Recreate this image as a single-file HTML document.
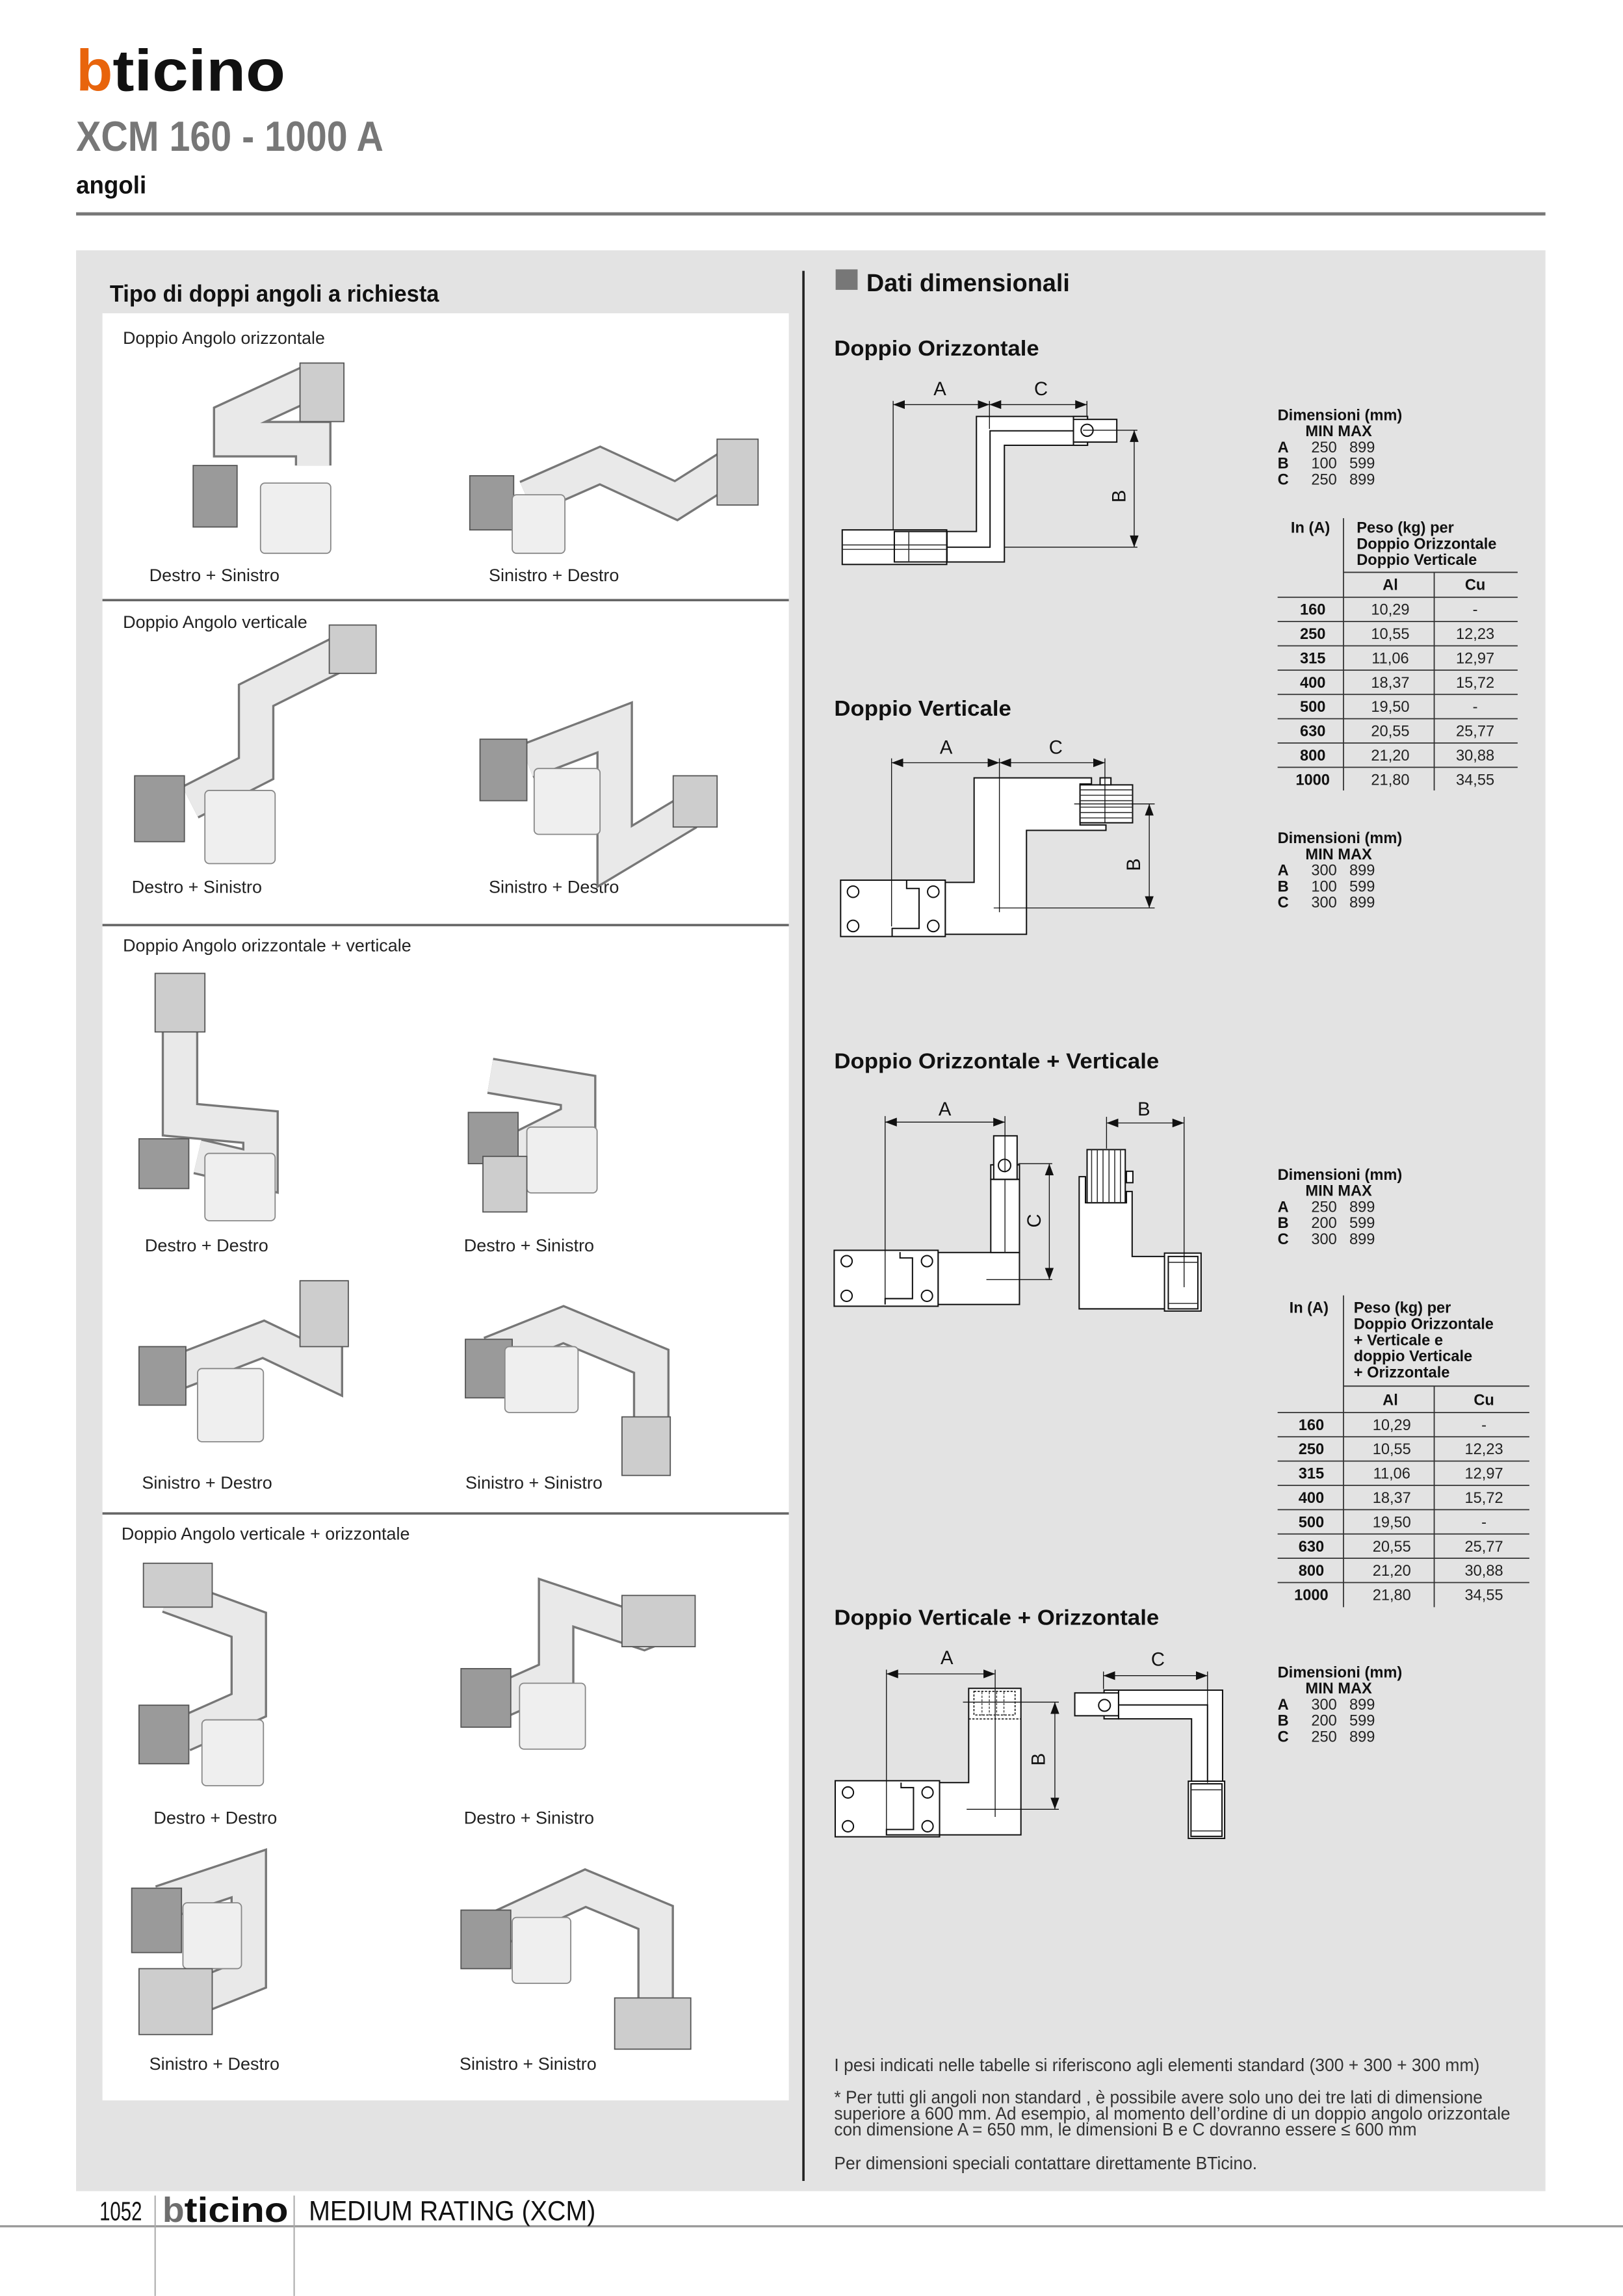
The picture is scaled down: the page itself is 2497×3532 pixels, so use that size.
<!DOCTYPE html>
<html><head><meta charset="utf-8"><style>
html,body{margin:0;padding:0;background:#fff}
svg{display:block}
text{font-family:"Liberation Sans Narrow","Liberation Sans",sans-serif}
.b{font-family:"Liberation Sans",sans-serif;font-weight:bold;font-size:10.5px;fill:#111}
.n{font-family:"Liberation Sans",sans-serif;font-size:10.5px;fill:#222}
.lab{font-size:12px;fill:#222}
.sh{fill:#fff;stroke:#111;stroke-width:0.9}
.ln{fill:none;stroke:#111;stroke-width:0.9}
.dl{stroke:#111;stroke-width:0.6;fill:none}
.dim{font-family:"Liberation Sans",sans-serif;font-size:13px;fill:#111}
.tl{stroke:#333;stroke-width:0.7}
</style></head><body>
<svg width="2497" height="3532" viewBox="0 0 1109 1568.6" xmlns="http://www.w3.org/2000/svg">
<defs>
<marker id="ar" markerWidth="8" markerHeight="6" refX="8" refY="3" orient="auto-start-reverse" markerUnits="userSpaceOnUse"><path d="M0,0 L8,3 L0,6Z" fill="#111"/></marker>
</defs>
<rect width="1109" height="1568.6" fill="#fff"/>
<!-- header -->
<text x="52" y="62" font-size="40" font-weight="bold" fill="#e8640c" textLength="25" lengthAdjust="spacingAndGlyphs">b</text>
<text x="77" y="62" font-size="40" font-weight="bold" fill="#111" textLength="118" lengthAdjust="spacingAndGlyphs">ticino</text>
<text x="52" y="103" font-size="29" font-weight="bold" fill="#777" textLength="210" lengthAdjust="spacingAndGlyphs">XCM  160 - 1000 A</text>
<text x="52" y="132" font-size="17" font-weight="bold" fill="#111" textLength="48" lengthAdjust="spacingAndGlyphs">angoli</text>
<rect x="52" y="145" width="1004" height="2.2" fill="#777"/>
<!-- panel -->
<rect x="52" y="171" width="1004" height="1326" fill="#e3e3e3"/>
<text x="75" y="206" font-size="16" font-weight="bold" fill="#111" textLength="225" lengthAdjust="spacingAndGlyphs">Tipo di doppi angoli a richiesta</text>
<rect x="70" y="214" width="469" height="1221" fill="#fff"/>
<g stroke="#666" stroke-width="1.6"><line x1="70" y1="410" x2="539" y2="410"/><line x1="70" y1="632" x2="539" y2="632"/><line x1="70" y1="1034" x2="539" y2="1034"/></g>
<g class="lab">
<text x="84" y="235" textLength="138" lengthAdjust="spacingAndGlyphs">Doppio Angolo orizzontale</text>
<text x="84" y="429" textLength="126" lengthAdjust="spacingAndGlyphs">Doppio Angolo verticale</text>
<text x="84" y="650" textLength="197" lengthAdjust="spacingAndGlyphs">Doppio Angolo orizzontale + verticale</text>
<text x="83" y="1052" textLength="197" lengthAdjust="spacingAndGlyphs">Doppio Angolo verticale + orizzontale</text>
<text x="102" y="397">Destro + Sinistro</text><text x="334" y="397">Sinistro + Destro</text>
<text x="90" y="610">Destro + Sinistro</text><text x="334" y="610">Sinistro + Destro</text>
<text x="99" y="855">Destro + Destro</text><text x="317" y="855">Destro + Sinistro</text>
<text x="97" y="1017">Sinistro + Destro</text><text x="318" y="1017">Sinistro + Sinistro</text>
<text x="105" y="1246">Destro + Destro</text><text x="317" y="1246">Destro + Sinistro</text>
<text x="102" y="1414">Sinistro + Destro</text><text x="314" y="1414">Sinistro + Sinistro</text>
</g>
<!-- 3D products (approximations) -->
<g stroke-linejoin="miter" fill="none">
<g stroke="#777" stroke-width="25">
<path d="M210,262 L158,286 L158,300 L214,300 L214,318"/>
<path d="M500,318 L462,342 L410,318 L360,340"/>
<path d="M235,445 L175,475 L175,525 L130,548"/>
<path d="M360,520 L420,497 L420,585 L470,555"/>
<path d="M123,700 L123,765 L178,770 L178,800 L135,790"/>
<path d="M335,735 L395,745 L395,765 L345,790"/>
<path d="M115,940 L180,915 L222,935 L222,900"/>
<path d="M335,925 L385,905 L445,930 L445,985"/>
<path d="M115,1090 L170,1110 L170,1165 L125,1185"/>
<path d="M335,1165 L380,1145 L380,1095 L440,1115 L465,1105"/>
<path d="M110,1300 L170,1280 L170,1350 L120,1370"/>
<path d="M335,1320 L400,1290 L448,1310 L448,1370"/>
</g>
<g stroke="#e9e9e9" stroke-width="22">
<path d="M210,262 L158,286 L158,300 L214,300 L214,318"/>
<path d="M500,318 L462,342 L410,318 L360,340"/>
<path d="M235,445 L175,475 L175,525 L130,548"/>
<path d="M360,520 L420,497 L420,585 L470,555"/>
<path d="M123,700 L123,765 L178,770 L178,800 L135,790"/>
<path d="M335,735 L395,745 L395,765 L345,790"/>
<path d="M115,940 L180,915 L222,935 L222,900"/>
<path d="M335,925 L385,905 L445,930 L445,985"/>
<path d="M115,1090 L170,1110 L170,1165 L125,1185"/>
<path d="M335,1165 L380,1145 L380,1095 L440,1115 L465,1105"/>
<path d="M110,1300 L170,1280 L170,1350 L120,1370"/>
<path d="M335,1320 L400,1290 L448,1310 L448,1370"/>
</g>
</g>
<g stroke="#555" stroke-width="0.8">
<g fill="#9a9a9a">
<rect x="132" y="318" width="30" height="42"/><rect x="321" y="325" width="30" height="37"/>
<rect x="92" y="530" width="34" height="45"/><rect x="328" y="505" width="32" height="42"/>
<rect x="95" y="778" width="34" height="34"/><rect x="320" y="760" width="34" height="35"/>
<rect x="95" y="920" width="32" height="40"/><rect x="318" y="915" width="32" height="40"/>
<rect x="95" y="1165" width="34" height="40"/><rect x="315" y="1140" width="34" height="40"/>
<rect x="90" y="1290" width="34" height="44"/><rect x="315" y="1305" width="34" height="40"/>
</g>
<g fill="#efefef" stroke="#888">
<rect x="178" y="330" width="48" height="48" rx="3"/><rect x="350" y="338" width="36" height="40" rx="3"/>
<rect x="140" y="540" width="48" height="50" rx="3"/><rect x="365" y="525" width="45" height="45" rx="3"/>
<rect x="140" y="788" width="48" height="46" rx="3"/><rect x="360" y="770" width="48" height="45" rx="3"/>
<rect x="135" y="935" width="45" height="50" rx="3"/><rect x="345" y="920" width="50" height="45" rx="3"/>
<rect x="138" y="1175" width="42" height="45" rx="3"/><rect x="355" y="1150" width="45" height="45" rx="3"/>
<rect x="125" y="1300" width="40" height="45" rx="3"/><rect x="350" y="1310" width="40" height="45" rx="3"/>
</g>
<g fill="#cdcdcd">
<rect x="205" y="248" width="30" height="40"/><rect x="490" y="300" width="28" height="45"/>
<rect x="225" y="427" width="32" height="33"/><rect x="460" y="530" width="30" height="35"/>
<rect x="106" y="665" width="34" height="40"/><rect x="330" y="790" width="30" height="38"/>
<rect x="205" y="875" width="33" height="45"/><rect x="425" y="968" width="33" height="40"/>
<rect x="98" y="1068" width="47" height="30"/><rect x="425" y="1090" width="50" height="35"/>
<rect x="95" y="1345" width="50" height="45"/><rect x="420" y="1365" width="52" height="35"/>
</g>
</g>
<!-- right column -->
<line x1="549" y1="185" x2="549" y2="1490" stroke="#222" stroke-width="1.6"/>
<rect x="571" y="184" width="15" height="14" fill="#777"/>
<text x="592" y="199" font-size="17" font-weight="bold" fill="#111" font-family="Liberation Sans" textLength="139" lengthAdjust="spacingAndGlyphs">Dati dimensionali</text>
<g font-size="15" font-weight="bold" fill="#111">
<text x="570" y="243" textLength="140" lengthAdjust="spacingAndGlyphs">Doppio Orizzontale</text>
<text x="570" y="489" textLength="121" lengthAdjust="spacingAndGlyphs">Doppio Verticale</text>
<text x="570" y="730" textLength="222" lengthAdjust="spacingAndGlyphs">Doppio Orizzontale + Verticale</text>
<text x="570" y="1110" textLength="222" lengthAdjust="spacingAndGlyphs">Doppio Verticale + Orizzontale</text>
</g>

<!-- Drawing 1 -->
<g>
<polygon class="sh" points="646.9,363.1 667.2,363.1 667.2,284.5 743.1,284.5 743.1,304.2 686.3,304.2 686.3,383.9 646.9,383.9"/>
<polyline class="ln" points="646.9,373.8 676.5,373.8 676.5,294.3 733.5,294.3"/>
<rect class="sh" x="733.5" y="284.5" width="9.6" height="19.7"/>
<rect class="sh" x="733.5" y="286.5" width="29.6" height="15.5"/>
<circle class="sh" cx="742.8" cy="293.9" r="4.1"/>
<rect class="sh" x="575.5" y="362" width="71.4" height="23.6"/>
<line class="tl" x1="575.5" y1="372.3" x2="646.9" y2="372.3"/><line class="tl" x1="575.5" y1="375.3" x2="646.9" y2="375.3"/>
<rect class="ln" x="611.1" y="363.1" width="36" height="20.8"/>
<line class="tl" x1="621" y1="363.1" x2="621" y2="383.9"/>
<line class="dl" x1="610.3" y1="276.4" x2="676.1" y2="276.4" marker-start="url(#ar)" marker-end="url(#ar)"/>
<line class="dl" x1="676.1" y1="276.4" x2="742.7" y2="276.4" marker-start="url(#ar)" marker-end="url(#ar)"/>
<line class="dl" x1="610.3" y1="273.9" x2="610.3" y2="362"/>
<line class="dl" x1="676.1" y1="273.9" x2="676.1" y2="293"/>
<line class="dl" x1="742.7" y1="273.9" x2="742.7" y2="284"/>
<line class="dl" x1="775" y1="293.9" x2="775" y2="373.8" marker-start="url(#ar)" marker-end="url(#ar)"/>
<line class="dl" x1="740" y1="293.9" x2="777.2" y2="293.9"/><line class="dl" x1="686" y1="373.8" x2="777.2" y2="373.8"/>
<text class="dim" x="642.2" y="270" text-anchor="middle">A</text>
<text class="dim" x="711.3" y="270" text-anchor="middle">C</text>
<text class="dim" transform="translate(769,339) rotate(-90)" text-anchor="middle">B</text>
</g>

<!-- Drawing 2 -->
<g>
<polygon class="sh" points="645.9,602.8 665.6,602.8 665.6,531.4 745.8,531.4 745.8,535.6 738,535.6 738,563.6 755.7,563.6 755.7,567.3 701.4,567.3 701.4,638.3 645.9,638.3"/>
<rect class="sh" x="738" y="536.2" width="35.9" height="25.9"/>
<g class="tl"><line x1="738" y1="539.6" x2="773.9" y2="539.6"/><line x1="738" y1="543.3" x2="773.9" y2="543.3"/><line x1="738" y1="547" x2="773.9" y2="547"/><line x1="738" y1="551.4" x2="773.9" y2="551.4"/><line x1="738" y1="555.1" x2="773.9" y2="555.1"/><line x1="738" y1="558.8" x2="773.9" y2="558.8"/></g>
<rect class="sh" x="751.7" y="531.4" width="7.4" height="4.8"/>
<rect class="sh" x="574.4" y="601.3" width="71.5" height="38.5"/>
<polyline class="ln" points="619.5,601.3 619.5,607 628,607 628,634.3 609.6,634.3 609.6,639.8"/>
<g class="sh"><circle cx="582.9" cy="609.2" r="3.9"/><circle cx="637.7" cy="609.2" r="3.9"/><circle cx="582.9" cy="632.6" r="3.9"/><circle cx="637.7" cy="632.6" r="3.9"/></g>
<line class="dl" x1="609.2" y1="521.1" x2="682.9" y2="521.1" marker-start="url(#ar)" marker-end="url(#ar)"/>
<line class="dl" x1="682.9" y1="521.1" x2="755" y2="521.1" marker-start="url(#ar)" marker-end="url(#ar)"/>
<line class="dl" x1="609.2" y1="518.1" x2="609.2" y2="632.9"/>
<line class="dl" x1="682.9" y1="518.1" x2="682.9" y2="623.2"/>
<line class="dl" x1="755" y1="518.1" x2="755" y2="562"/>
<line class="dl" x1="785.3" y1="549.2" x2="785.3" y2="620.3" marker-start="url(#ar)" marker-end="url(#ar)"/>
<line class="dl" x1="734" y1="549.2" x2="789" y2="549.2"/><line class="dl" x1="679" y1="620.3" x2="789" y2="620.3"/>
<text class="dim" x="646.5" y="515" text-anchor="middle">A</text>
<text class="dim" x="721.4" y="515" text-anchor="middle">C</text>
<text class="dim" transform="translate(779,590.7) rotate(-90)" text-anchor="middle">B</text>
</g>

<!-- Drawing 3 -->
<g>
<rect class="sh" x="641" y="855.7" width="55.6" height="35.5"/>
<rect class="sh" x="677" y="805.7" width="19.6" height="50"/>
<line class="tl" x1="686.7" y1="805.7" x2="686.7" y2="855.7"/>
<rect class="sh" x="677" y="795.8" width="19.6" height="9.9"/>
<rect class="sh" x="679" y="776" width="16" height="29.7"/>
<circle class="sh" cx="686.4" cy="796.2" r="4.2"/>
<rect class="sh" x="570" y="854.2" width="71" height="38.2"/>
<polyline class="ln" points="615,855.4 615,859.4 623.5,859.4 623.5,887.2 604.8,887.2 604.8,891.2"/>
<g class="sh"><circle cx="578.5" cy="861.6" r="3.8"/><circle cx="633.4" cy="861.6" r="3.8"/><circle cx="578.5" cy="885.3" r="3.8"/><circle cx="633.4" cy="885.3" r="3.8"/></g>
<line class="dl" x1="604.8" y1="766.6" x2="686.7" y2="766.6" marker-start="url(#ar)" marker-end="url(#ar)"/>
<line class="dl" x1="604.8" y1="762.5" x2="604.8" y2="891"/>
<line class="dl" x1="686.7" y1="762.5" x2="686.7" y2="800.9"/>
<line class="dl" x1="717" y1="795" x2="717" y2="874.2" marker-start="url(#ar)" marker-end="url(#ar)"/>
<line class="dl" x1="695.8" y1="795" x2="719" y2="795"/><line class="dl" x1="674" y1="874.2" x2="719" y2="874.2"/>
<text class="dim" x="645.6" y="762" text-anchor="middle">A</text>
<text class="dim" transform="translate(711,834) rotate(-90)" text-anchor="middle">C</text>
<polygon class="sh" points="737.4,803.9 741.7,803.9 741.7,821.7 769.7,821.7 769.7,814 773.6,814 773.6,858.4 796.1,858.4 796.1,894.2 737.4,894.2"/>
<rect class="sh" x="742.8" y="785.4" width="26.1" height="36.3"/>
<g class="tl"><line x1="745.9" y1="785.4" x2="745.9" y2="821.7"/><line x1="749.8" y1="785.4" x2="749.8" y2="821.7"/><line x1="753.7" y1="785.4" x2="753.7" y2="821.7"/><line x1="757.8" y1="785.4" x2="757.8" y2="821.7"/><line x1="761.7" y1="785.4" x2="761.7" y2="821.7"/><line x1="765.6" y1="785.4" x2="765.6" y2="821.7"/></g>
<rect class="sh" x="769.7" y="800.2" width="4.4" height="7.8"/>
<rect class="sh" x="795.7" y="856.1" width="25" height="39.6"/>
<rect class="sh" x="798.3" y="858.4" width="20.2" height="35.8"/>
<line class="tl" x1="798.3" y1="862.4" x2="818.5" y2="862.4"/><line class="tl" x1="798.3" y1="890.5" x2="818.5" y2="890.5"/>
<line class="dl" x1="756.1" y1="767.2" x2="809.1" y2="767.2" marker-start="url(#ar)" marker-end="url(#ar)"/>
<line class="dl" x1="756.1" y1="763" x2="756.1" y2="784.7"/><line class="dl" x1="809.1" y1="763" x2="809.1" y2="879.4"/>
<text class="dim" x="781.6" y="762" text-anchor="middle">B</text>
</g>

<!-- Drawing 4 -->
<g>
<polygon class="sh" points="642,1217.9 661.9,1217.9 661.9,1153.5 697.6,1153.5 697.6,1253.6 642,1253.6"/>
<line x1="661.9" y1="1174.4" x2="697.6" y2="1174.4" stroke="#111" stroke-width="0.7" stroke-dasharray="1.5,1"/>
<rect x="665.5" y="1155.5" width="28.1" height="16.2" fill="none" stroke="#111" stroke-width="0.7" stroke-dasharray="1.5,1"/>
<g stroke="#111" stroke-width="0.5" stroke-dasharray="1.5,1"><line x1="671" y1="1156" x2="671" y2="1172"/><line x1="676" y1="1156" x2="676" y2="1172"/><line x1="681" y1="1156" x2="681" y2="1172"/><line x1="686" y1="1156" x2="686" y2="1172"/></g>
<rect class="sh" x="570.7" y="1216.6" width="71.3" height="38.3"/>
<polyline class="ln" points="615.7,1217.9 615.7,1221.3 624.2,1221.3 624.2,1249.9 605.7,1249.9 605.7,1253.6 642,1253.6"/>
<g class="sh"><circle cx="579.4" cy="1224.6" r="3.8"/><circle cx="633.8" cy="1224.6" r="3.8"/><circle cx="579.4" cy="1247.7" r="3.8"/><circle cx="633.8" cy="1247.7" r="3.8"/></g>
<line class="dl" x1="605.7" y1="1143.6" x2="680" y2="1143.6" marker-start="url(#ar)" marker-end="url(#ar)"/>
<line class="dl" x1="605.7" y1="1140.7" x2="605.7" y2="1253.6"/><line class="dl" x1="680" y1="1140.7" x2="680" y2="1241.3"/>
<line class="dl" x1="720.8" y1="1162.9" x2="720.8" y2="1236.1" marker-start="url(#ar)" marker-end="url(#ar)"/>
<line class="dl" x1="658" y1="1162.9" x2="723.5" y2="1162.9"/><line class="dl" x1="660.5" y1="1236.1" x2="723.5" y2="1236.1"/>
<text class="dim" x="647" y="1137" text-anchor="middle">A</text>
<text class="dim" transform="translate(714,1202) rotate(-90)" text-anchor="middle">B</text>
<polygon class="sh" points="764.3,1154.7 835.4,1154.7 835.4,1217.2 814.2,1217.2 814.2,1174.3 764.3,1174.3"/>
<polyline class="ln" points="764.3,1164.8 825.1,1164.8 825.1,1218"/>
<rect class="sh" x="754.4" y="1154.7" width="9.9" height="19.6"/>
<rect class="sh" x="734.4" y="1156.6" width="29.9" height="15.6"/>
<circle class="sh" cx="754.7" cy="1165.1" r="4"/>
<rect class="sh" x="812" y="1216.9" width="24.8" height="39.1"/>
<rect class="sh" x="813.8" y="1218.7" width="21.2" height="35.9"/>
<line class="tl" x1="813.8" y1="1222.8" x2="835" y2="1222.8"/><line class="tl" x1="813.8" y1="1250.9" x2="835" y2="1250.9"/>
<line class="dl" x1="754" y1="1144.8" x2="825.1" y2="1144.8" marker-start="url(#ar)" marker-end="url(#ar)"/>
<line class="dl" x1="754" y1="1142" x2="754" y2="1154"/><line class="dl" x1="825.1" y1="1142" x2="825.1" y2="1218"/>
<text class="dim" x="791.2" y="1138" text-anchor="middle">C</text>
</g>

<!-- Dim blocks -->
<g>
<text class="b" x="873" y="287">Dimensioni (mm)</text><text class="b" x="892" y="298">MIN MAX</text>
<text class="b" x="873" y="309">A</text><text class="n" x="896" y="309">250</text><text class="n" x="922" y="309">899</text>
<text class="b" x="873" y="320">B</text><text class="n" x="896" y="320">100</text><text class="n" x="922" y="320">599</text>
<text class="b" x="873" y="331">C</text><text class="n" x="896" y="331">250</text><text class="n" x="922" y="331">899</text>

<text class="b" x="873" y="576">Dimensioni (mm)</text><text class="b" x="892" y="587">MIN MAX</text>
<text class="b" x="873" y="598">A</text><text class="n" x="896" y="598">300</text><text class="n" x="922" y="598">899</text>
<text class="b" x="873" y="609">B</text><text class="n" x="896" y="609">100</text><text class="n" x="922" y="609">599</text>
<text class="b" x="873" y="620">C</text><text class="n" x="896" y="620">300</text><text class="n" x="922" y="620">899</text>

<text class="b" x="873" y="806">Dimensioni (mm)</text><text class="b" x="892" y="817">MIN MAX</text>
<text class="b" x="873" y="828">A</text><text class="n" x="896" y="828">250</text><text class="n" x="922" y="828">899</text>
<text class="b" x="873" y="839">B</text><text class="n" x="896" y="839">200</text><text class="n" x="922" y="839">599</text>
<text class="b" x="873" y="850">C</text><text class="n" x="896" y="850">300</text><text class="n" x="922" y="850">899</text>

<text class="b" x="873" y="1146">Dimensioni (mm)</text><text class="b" x="892" y="1157">MIN MAX</text>
<text class="b" x="873" y="1168">A</text><text class="n" x="896" y="1168">300</text><text class="n" x="922" y="1168">899</text>
<text class="b" x="873" y="1179">B</text><text class="n" x="896" y="1179">200</text><text class="n" x="922" y="1179">599</text>
<text class="b" x="873" y="1190">C</text><text class="n" x="896" y="1190">250</text><text class="n" x="922" y="1190">899</text>
</g>

<!-- Table 1 -->
<g>
<g stroke="#333" stroke-width="0.8">
<line x1="918" y1="354" x2="918" y2="540"/><line x1="980" y1="391" x2="980" y2="540"/>
<line x1="918" y1="391" x2="1037" y2="391"/>
<line x1="873" y1="408" x2="1037" y2="408"/><line x1="873" y1="424.6" x2="1037" y2="424.6"/><line x1="873" y1="441.2" x2="1037" y2="441.2"/><line x1="873" y1="457.8" x2="1037" y2="457.8"/><line x1="873" y1="474.4" x2="1037" y2="474.4"/><line x1="873" y1="491" x2="1037" y2="491"/><line x1="873" y1="507.6" x2="1037" y2="507.6"/><line x1="873" y1="524.2" x2="1037" y2="524.2"/>
</g>
<text class="b" x="882" y="364">In (A)</text>
<text class="b" x="927" y="364">Peso (kg) per</text><text class="b" x="927" y="375">Doppio Orizzontale</text><text class="b" x="927" y="386">Doppio Verticale</text>
<text class="b" x="950" y="403" text-anchor="middle">Al</text><text class="b" x="1008" y="403" text-anchor="middle">Cu</text>
<g text-anchor="middle">
<text class="b" x="897" y="420">160</text><text class="n" x="950" y="420">10,29</text><text class="n" x="1008" y="420">-</text>
<text class="b" x="897" y="436.6">250</text><text class="n" x="950" y="436.6">10,55</text><text class="n" x="1008" y="436.6">12,23</text>
<text class="b" x="897" y="453.2">315</text><text class="n" x="950" y="453.2">11,06</text><text class="n" x="1008" y="453.2">12,97</text>
<text class="b" x="897" y="469.8">400</text><text class="n" x="950" y="469.8">18,37</text><text class="n" x="1008" y="469.8">15,72</text>
<text class="b" x="897" y="486.4">500</text><text class="n" x="950" y="486.4">19,50</text><text class="n" x="1008" y="486.4">-</text>
<text class="b" x="897" y="503">630</text><text class="n" x="950" y="503">20,55</text><text class="n" x="1008" y="503">25,77</text>
<text class="b" x="897" y="519.6">800</text><text class="n" x="950" y="519.6">21,20</text><text class="n" x="1008" y="519.6">30,88</text>
<text class="b" x="897" y="536.2">1000</text><text class="n" x="950" y="536.2">21,80</text><text class="n" x="1008" y="536.2">34,55</text>
</g>
</g>

<!-- Table 2 -->
<g>
<g stroke="#333" stroke-width="0.8">
<line x1="918" y1="885" x2="918" y2="1098"/><line x1="980" y1="947" x2="980" y2="1098"/>
<line x1="918" y1="947" x2="1045" y2="947"/>
<line x1="873" y1="965" x2="1045" y2="965"/><line x1="873" y1="981.6" x2="1045" y2="981.6"/><line x1="873" y1="998.2" x2="1045" y2="998.2"/><line x1="873" y1="1014.8" x2="1045" y2="1014.8"/><line x1="873" y1="1031.4" x2="1045" y2="1031.4"/><line x1="873" y1="1048" x2="1045" y2="1048"/><line x1="873" y1="1064.6" x2="1045" y2="1064.6"/><line x1="873" y1="1081.2" x2="1045" y2="1081.2"/>
</g>
<text class="b" x="881" y="897">In (A)</text>
<text class="b" x="925" y="897">Peso (kg) per</text><text class="b" x="925" y="908">Doppio Orizzontale</text><text class="b" x="925" y="919">+  Verticale e</text><text class="b" x="925" y="930">doppio Verticale</text><text class="b" x="925" y="941">+  Orizzontale</text>
<text class="b" x="950" y="960" text-anchor="middle">Al</text><text class="b" x="1014" y="960" text-anchor="middle">Cu</text>
<g text-anchor="middle">
<text class="b" x="896" y="977">160</text><text class="n" x="951" y="977">10,29</text><text class="n" x="1014" y="977">-</text>
<text class="b" x="896" y="993.6">250</text><text class="n" x="951" y="993.6">10,55</text><text class="n" x="1014" y="993.6">12,23</text>
<text class="b" x="896" y="1010.2">315</text><text class="n" x="951" y="1010.2">11,06</text><text class="n" x="1014" y="1010.2">12,97</text>
<text class="b" x="896" y="1026.8">400</text><text class="n" x="951" y="1026.8">18,37</text><text class="n" x="1014" y="1026.8">15,72</text>
<text class="b" x="896" y="1043.4">500</text><text class="n" x="951" y="1043.4">19,50</text><text class="n" x="1014" y="1043.4">-</text>
<text class="b" x="896" y="1060">630</text><text class="n" x="951" y="1060">20,55</text><text class="n" x="1014" y="1060">25,77</text>
<text class="b" x="896" y="1076.6">800</text><text class="n" x="951" y="1076.6">21,20</text><text class="n" x="1014" y="1076.6">30,88</text>
<text class="b" x="896" y="1093.2">1000</text><text class="n" x="951" y="1093.2">21,80</text><text class="n" x="1014" y="1093.2">34,55</text>
</g>
</g>

<!-- notes -->
<g font-size="12.5" fill="#333">
<text x="570" y="1415" textLength="441" lengthAdjust="spacingAndGlyphs">I pesi indicati nelle tabelle si riferiscono agli elementi standard (300 + 300 + 300 mm)</text>
<text x="570" y="1437" textLength="443" lengthAdjust="spacingAndGlyphs">* Per tutti gli angoli non standard , è possibile avere solo uno dei tre lati di dimensione</text>
<text x="570" y="1448" textLength="462" lengthAdjust="spacingAndGlyphs">superiore a 600 mm. Ad esempio, al momento dell’ordine di un doppio angolo orizzontale</text>
<text x="570" y="1459" textLength="398" lengthAdjust="spacingAndGlyphs">con dimensione A = 650 mm, le dimensioni B e C dovranno essere ≤ 600 mm</text>
<text x="570" y="1482" textLength="289" lengthAdjust="spacingAndGlyphs">Per dimensioni speciali contattare direttamente BTicino.</text>
</g>

<!-- footer -->
<line x1="0" y1="1521" x2="1109" y2="1521" stroke="#999" stroke-width="1.4"/>
<line x1="106" y1="1500" x2="106" y2="1568.6" stroke="#aaa" stroke-width="0.9"/>
<line x1="201" y1="1500" x2="201" y2="1568.6" stroke="#aaa" stroke-width="0.9"/>
<text x="68" y="1517" font-size="18" fill="#111" textLength="29" lengthAdjust="spacingAndGlyphs">1052</text>
<text x="111" y="1518" font-size="24" font-weight="bold" fill="#6e6e6e" textLength="15" lengthAdjust="spacingAndGlyphs">b</text>
<text x="126" y="1518" font-size="24" font-weight="bold" fill="#111" textLength="71" lengthAdjust="spacingAndGlyphs">ticino</text>
<text x="211" y="1517" font-size="19" fill="#111" textLength="196" lengthAdjust="spacingAndGlyphs">MEDIUM RATING (XCM)</text>
</svg>
</body></html>
